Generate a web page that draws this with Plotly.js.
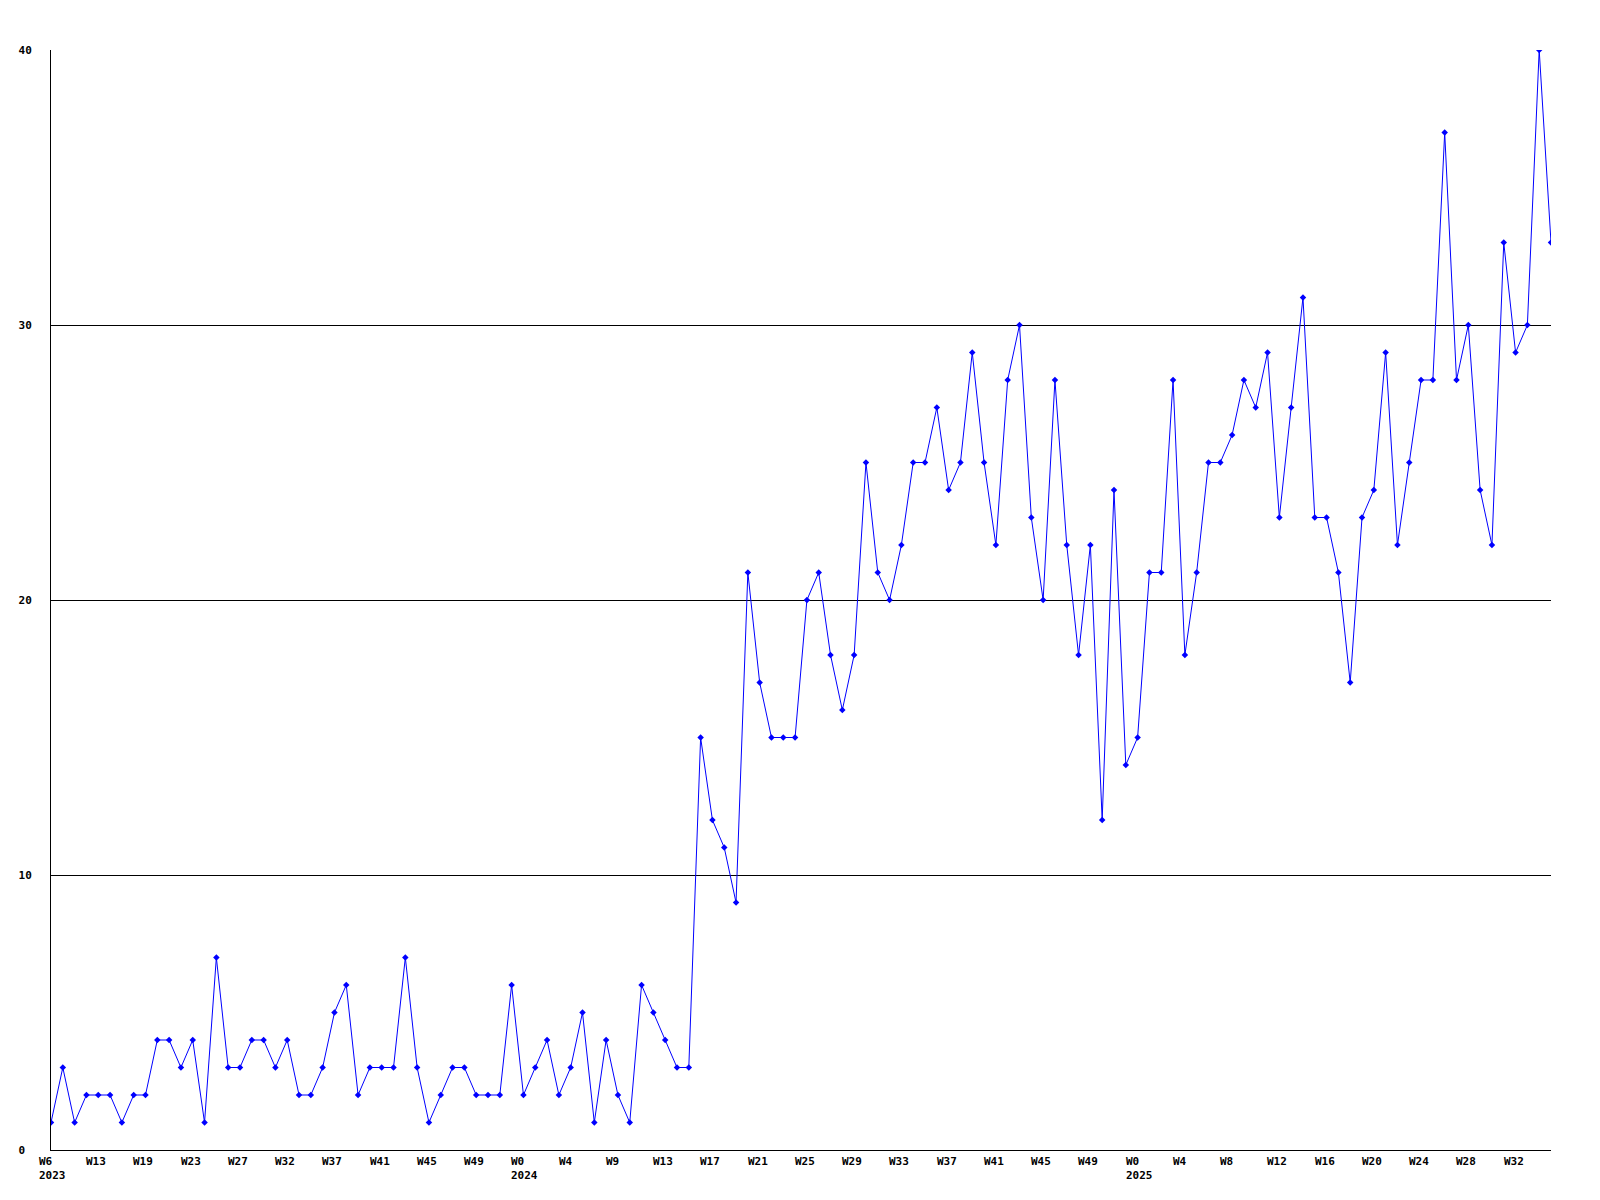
<!DOCTYPE html>
<html>
<head>
<meta charset="utf-8">
<script src="https://cdn.plot.ly/plotly-3.0.1.min.js"></script>
<style>html,body{margin:0;padding:0;background:#fff;}#chart{width:1600px;height:1200px;}</style>
</head>
<body>
<div id="chart"></div>
<script>
// Weekly counts, first point = 2023 W6
const counts = [
  1,3,1,2,2,2,1,2,2,4,4,3,4,1,7,3,3,4,4,3,4,2,2,3,5,6,2,3,3,3,
  7,3,1,2,3,3,2,2,2,6,2,3,4,2,3,5,1,4,2,1,6,5,4,3,3,15,12,11,9,21,
  17,15,15,15,20,21,18,16,18,25,21,20,22,25,25,27,24,25,29,25,22,28,30,23,20,28,22,18,22,12,
  24,14,15,21,21,28,18,21,25,25,26,28,27,29,23,27,31,23,23,21,17,23,24,29,22,25,28,28,37,28,
  30,24,22,33,29,30,40,33
];
// Tick labels shown every 4th week
const tickLabels = [
  "W6<br>2023","W13","W19","W23","W27","W32","W37","W41","W45","W49",
  "W0<br>2024","W4","W9","W13","W17","W21","W25","W29","W33","W37","W41","W45","W49",
  "W0<br>2025","W4","W8","W12","W16","W20","W24","W28","W32"
];
const yTickValues = [0,10,20,30,40];
const yTickLabels = ["0\u00a0","10","20","30","40"];

const xIdx = counts.map((_, i) => i);
const tickStep = 4;
const fontFamily = "DejaVu Sans Mono, monospace";
const tickFont = {family: fontFamily, size: 11, color: "#000", weight: "bold"};

const xLabelAnnotations = tickLabels.map((t, k) => ({
  x: k * tickStep,
  xref: "x",
  y: 0,
  yref: "paper",
  xanchor: "left",
  yanchor: "top",
  align: "left",
  xshift: -14,
  yshift: -3,
  showarrow: false,
  text: t,
  font: tickFont
}));

Plotly.newPlot("chart", [{
  x: xIdx,
  y: counts,
  type: "scatter",
  mode: "lines+markers",
  line: {color: "#0000ff", width: 1},
  marker: {color: "#0000ff", symbol: "diamond", size: 5},
  hoverinfo: "y"
}], {
  width: 1600,
  height: 1200,
  margin: {l: 51, r: 49, t: 50, b: 50},
  paper_bgcolor: "#fff",
  plot_bgcolor: "#fff",
  showlegend: false,
  font: {family: fontFamily, size: 11, color: "#000"},
  annotations: xLabelAnnotations,
  xaxis: {
    range: [0, counts.length - 1],
    showticklabels: false,
    ticks: "",
    showgrid: false,
    zeroline: false,
    showline: true,
    linecolor: "#000",
    linewidth: 1
  },
  yaxis: {
    range: [0, 40],
    tickmode: "array",
    tickvals: yTickValues,
    ticktext: yTickLabels,
    ticks: "outside",
    ticklen: 16,
    tickcolor: "rgba(0,0,0,0)",
    showgrid: true,
    gridcolor: "#000",
    gridwidth: 1,
    zeroline: false,
    showline: true,
    linecolor: "#000",
    linewidth: 1,
    tickfont: tickFont
  }
}, {displayModeBar: false, staticPlot: true});
</script>
</body>
</html>
